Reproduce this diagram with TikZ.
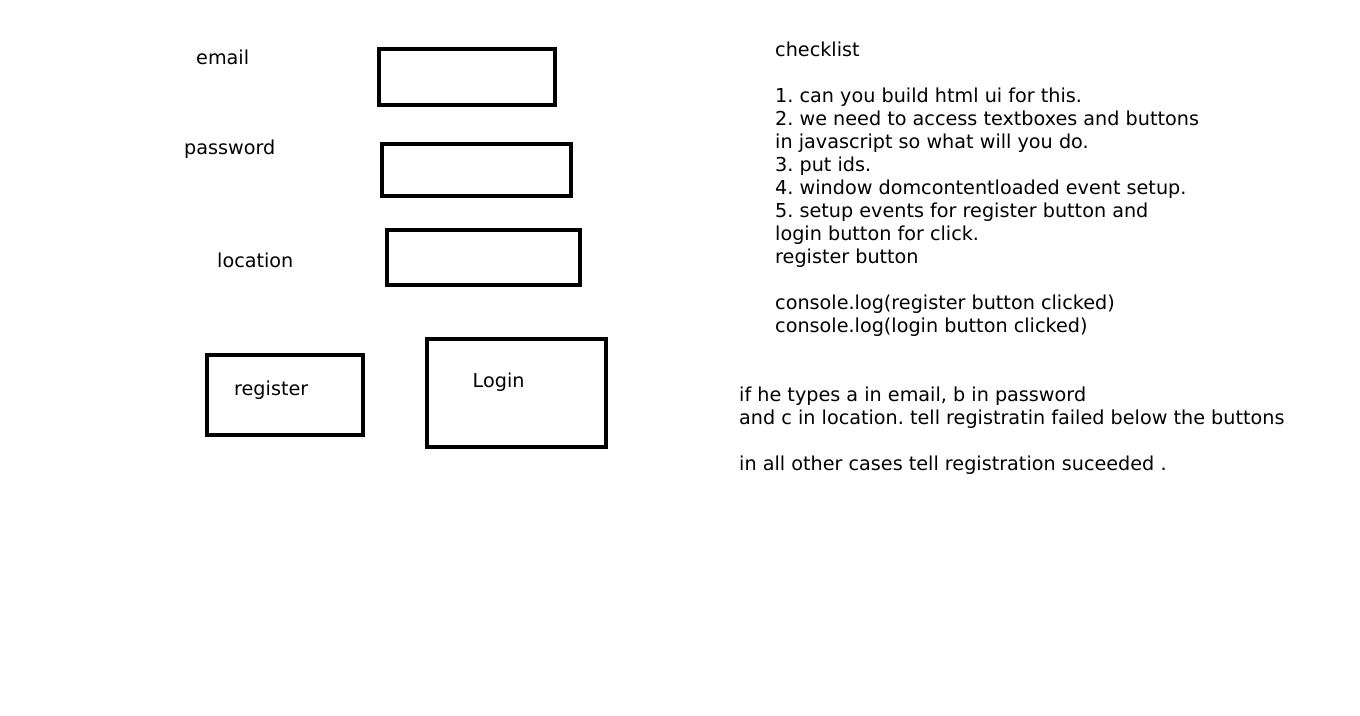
\documentclass[tikz,border=0pt]{standalone}
\usepackage{fontspec}
\setmainfont{DejaVu Sans}
\usetikzlibrary{positioning}
\frenchspacing

\begin{document}
\begin{tikzpicture}[x=1pt, y=-1pt, font=\fontsize{19.2}{23}\selectfont]
                \tikzstyle{field} = [rectangle, draw, line width=4pt, inner sep=0pt]
                \tikzstyle{txt} = [anchor=base west, inner sep=0pt]
                \useasboundingbox (0,0) rectangle (1360,715);

                % Form fields
                \node[field, minimum width=176pt, minimum height=56pt] (emailbox) at (467,77) {};
                \node[field, minimum width=189.5pt, minimum height=52pt] (passbox) at (476.25,170) {};
                \node[field, minimum width=193pt, minimum height=55.5pt] (locbox) at (483,257.25) {};
                \node[txt] (emailtxt) at (196,64) {email};
                \node[txt] (passtxt) at (184,154.5) {password};
                \node[txt] (loctxt) at (217,267.5) {location};

                % Buttons
                \node[field, minimum width=156pt, minimum height=79.5pt] (regbox) at (284.5,394.75) {};
                \node[field, minimum width=179pt, minimum height=107.5pt] (loginbox) at (516,392.75) {};
                \node[txt] (regtxt) at (234,395.5) {register};
                \node[txt] (logintxt) at (472.5,387.5) {Login};

                % Notes on the right (base = last line)
                \node[txt, align=left] (checklist) at (775,332) {checklist\\[23pt]
                        1. can you build html ui for this.\\
                        2. we need to access textboxes and buttons\\
                        in javascript so what will you do.\\
                        3. put ids.\\
                        4. window domcontentloaded event setup.\\
                        5. setup events for register button and\\
                        login button for click.\\
                        register button\\[23pt]
                        console.log(register button clicked)\\
                        console.log(login button clicked)};
                \node[txt, align=left] (rules) at (739,470) {if he types a in email, b in password\\
                        and c in location. tell registratin failed below the buttons\\[23pt]
                        in all other cases tell registration suceeded .};
            \end{tikzpicture}
\end{document}
